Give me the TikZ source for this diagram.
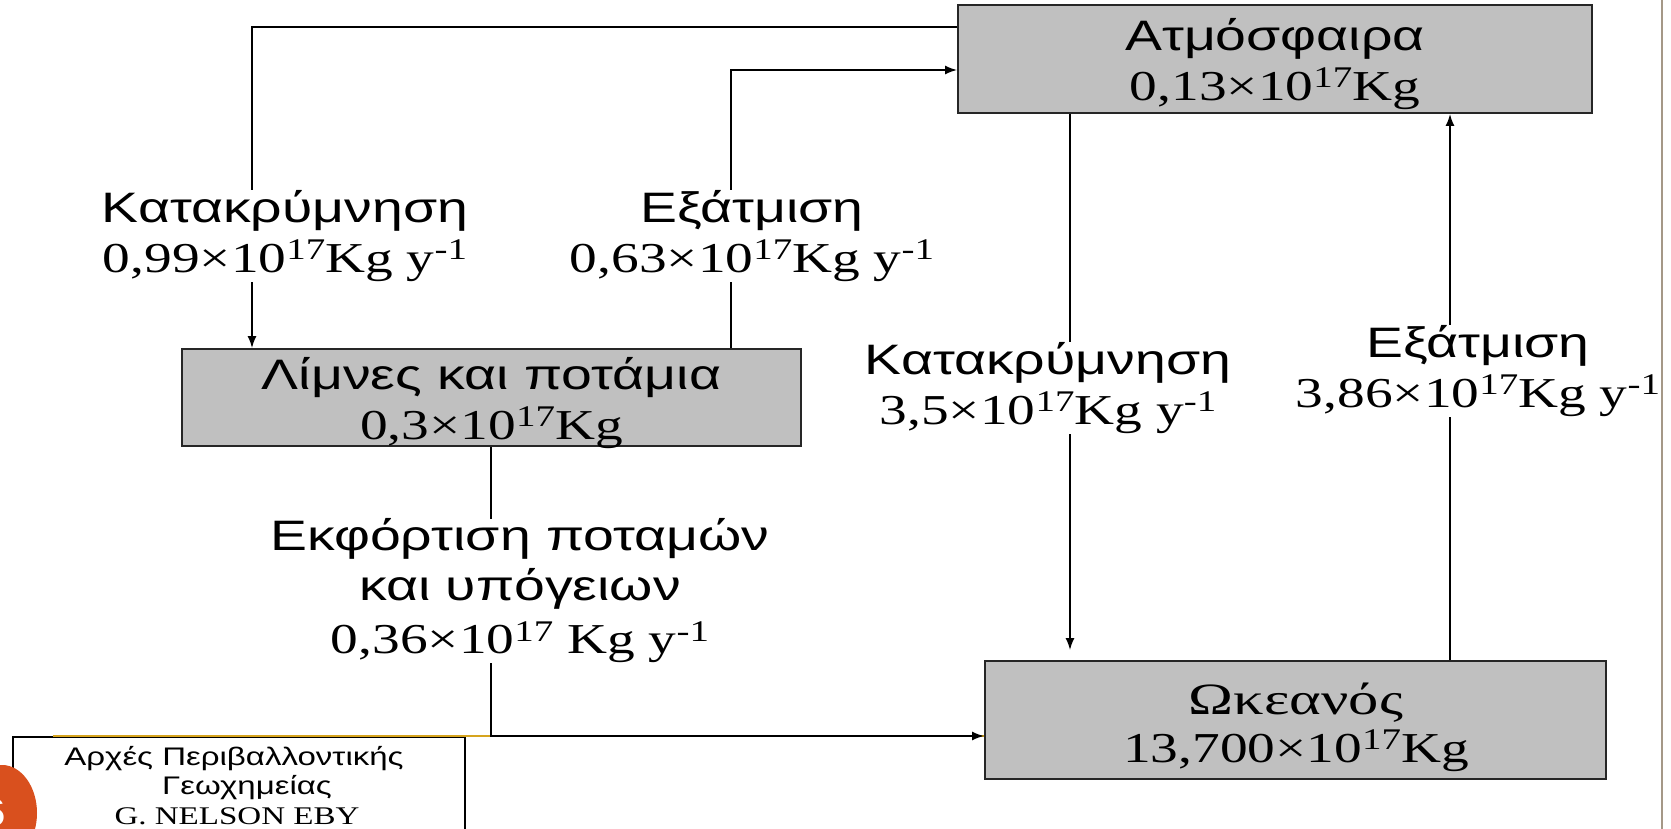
\documentclass[tikz,border=0pt]{standalone}
\usepackage{fontspec}
\setmainfont{Liberation Serif}
\setsansfont{Liberation Sans}
\usepackage{graphicx}
\usetikzlibrary{arrows.meta}
\definecolor{boxgray}{RGB}{192,192,192}
\definecolor{goldline}{RGB}{214,164,30}
\definecolor{slideorange}{RGB}{217,80,30}
\definecolor{edgebrown}{RGB}{165,152,135}
\newcommand{\sw}[1]{\scalebox{1.3}[1]{#1}}
\newcommand{\gk}[1]{\sw{\sffamily #1}}
\newcommand{\nm}[1]{\sw{\rmfamily #1}}
\newcommand{\spr}[1]{\raisebox{0.3em}{\fontsize{15pt}{15pt}\selectfont #1}}
\tikzset{
  box/.style={draw=black!85, line width=1pt, fill=boxgray, inner sep=0pt},
  boxtxt/.style={inner sep=0pt, align=center, font=\fontsize{21.3pt}{25pt}\selectfont},
  lbl/.style={fill=white, inner sep=0pt, align=center, font=\fontsize{21.3pt}{25pt}\selectfont},
  foot/.style={inner sep=0pt, align=center, font=\fontsize{12.7pt}{14.75pt}\selectfont},
  flow/.style={line width=0.75pt, draw=black, -{Latex[length=6pt,width=4.5pt]}},
}
\begin{document}
\begin{tikzpicture}[x=0.5pt,y=-0.5pt]
\useasboundingbox (0,0) rectangle (1671,829);
\clip (0,0) rectangle (1671,829);
% slide decorations
\draw[line width=1.2pt, edgebrown] (1662,0) -- (1662,829);
\node[draw=black, line width=0.75pt, anchor=north west, minimum width=226pt, minimum height=60pt, inner sep=0pt] (footbox) at (12,736) {};
\draw[line width=0.9pt, goldline] (53,736) -- (985,736);
\fill[slideorange] (2,813) ellipse [x radius=35, y radius=48];
\node[anchor=base east, inner sep=0pt, text=white, font=\fontsize{20pt}{22pt}\sffamily] (pagenum) at (7,826) {\sw{6}};
% boxes
\node[box, minimum width=317pt, minimum height=54pt] (atm) at (1275,59) {};
\node[box, minimum width=309.5pt, minimum height=48.5pt] (lakes) at (491.5,397.5) {};
\node[box, minimum width=310.5pt, minimum height=59pt] (ocean) at (1295.5,720) {};
\node[boxtxt] (atmtxt) at (1275,64) {\gk{Ατμόσφαιρα}\\\nm{0,13×10\spr{17}Kg}};
\node[boxtxt] (lakestxt) at (491.5,403) {\gk{Λίμνες και ποτάμια}\\\nm{0,3×10\spr{17}Kg}};
\node[boxtxt] (oceantxt) at (1296,727) {\scalebox{1.42}[1.05]{\rmfamily Ωκεανός}\\[-1pt]\nm{13,700×10\spr{17}Kg}};
% connectors
\coordinate (precipend) at (1070,650);
\draw[flow] (atm.west |- 0,27) -| (lakes.north -| 252,0);
\draw[flow] (lakes.north -| 731,0) |- (atm.west |- 0,70);
\draw[flow] (atm.south -| 1070,0) -- (precipend);
\draw[flow] (ocean.north -| 1450,0) -- (atm.south -| 1450,0);
\draw[flow] (lakes.south -| 491,0) |- (ocean.west |- 0,736);
% labels
\node[lbl] (l1) at (285,236) {\gk{Κατακρύμνηση}\\\nm{0,99×10\spr{17}Kg y\spr{-1}}};
\node[lbl] (l2) at (752,236) {\gk{Εξάτμιση}\\\nm{0,63×10\spr{17}Kg y\spr{-1}}};
\node[lbl] (l3) at (1048,388) {\gk{Κατακρύμνηση}\\\nm{3,5×10\spr{17}Kg y\spr{-1}}};
\node[lbl] (l4) at (1478,371) {\gk{Εξάτμιση}\\\nm{3,86×10\spr{17}Kg y\spr{-1}}};
\node[lbl] (l5) at (520,591) {\gk{Εκφόρτιση ποταμών}\\\gk{και υπόγειων}\\[1.5pt]\nm{0,36×10\spr{17} Kg y\spr{-1}}};
% footer text
\node[foot] (f1) at (234,759) {\gk{Αρχές Περιβαλλοντικής}};
\node[foot] (f2) at (247,788) {\gk{Γεωχημείας}};
\node[foot] (f3) at (237,816) {\nm{G. NELSON EBY}};
\end{tikzpicture}
\end{document}
